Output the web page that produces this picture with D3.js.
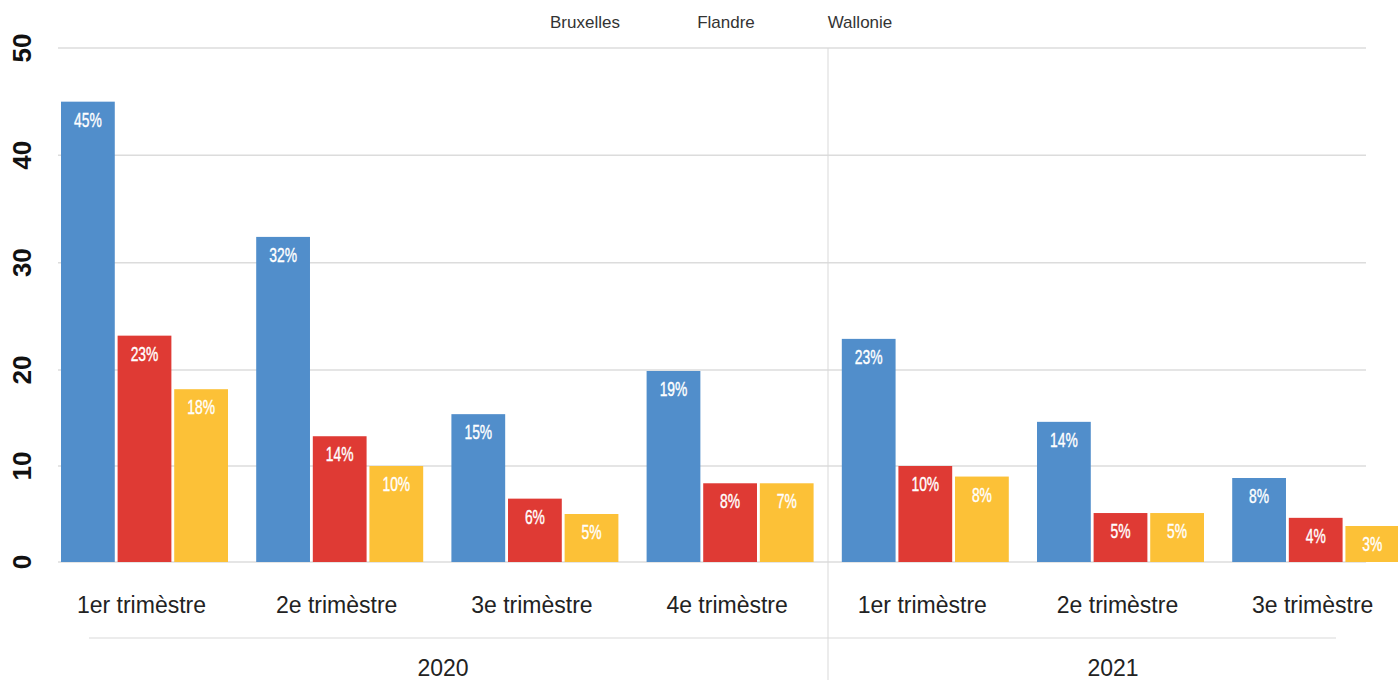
<!DOCTYPE html>
<html><head><meta charset="utf-8">
<script src="https://cdn.jsdelivr.net/npm/d3@7"></script>
<style>
html,body{margin:0;padding:0;background:#fff;}
svg{display:block;}
</style></head>
<body>
<svg id="chart" width="1398" height="680"></svg>
<script>
const categories = ["1er trimèstre","2e trimèstre","3e trimèstre","4e trimèstre","1er trimèstre","2e trimèstre","3e trimèstre"];
const categoryYear = ["2020","2020","2020","2020","2021","2021","2021"];
const years = ["2020","2021"];
const series = ["Bruxelles","Flandre","Wallonie"];
const bruxelles = [45.0, 32.4, 15.4, 19.9, 22.9, 14.6, 8.75];
const flandre   = [23.2, 13.1, 6.6, 8.2, 10.0, 5.1, 4.6];
const wallonie  = [18.0, 10.0, 5.0, 8.2, 8.9, 5.1, 3.75];
const bruxellesLabels = ["45%","32%","15%","19%","23%","14%","8%"];
const flandreLabels   = ["23%","14%","6%","8%","10%","5%","4%"];
const wallonieLabels  = ["18%","10%","5%","7%","8%","5%","3%"];
const yTicks = [0,10,20,30,40,50];

const colors = ["#518ecb","#df3a34","#fcc137"];
const seriesValues = [bruxelles, flandre, wallonie];
const seriesLabels = [bruxellesLabels, flandreLabels, wallonieLabels];

const svg = d3.select("#chart");
const W = 1398, H = 680;
const plotLeft = 58, plotRight = 1366, divX = 828;

const y = d3.scaleLinear().domain([0,20,50]).range([562,370,48]);
const idx = d3.range(categories.length);
const x = d3.scaleBand().domain(idx).range([61, 1399.2]).paddingInner(0.1445).paddingOuter(0);
const xs = d3.scaleBand().domain(series).range([0, x.bandwidth()]).paddingInner(0.05);

// gridlines
const grid = svg.append("g");
grid.selectAll("line").data(yTicks).join("line")
  .attr("x1", plotLeft).attr("x2", plotRight)
  .attr("y1", d => y(d)).attr("y2", d => y(d))
  .attr("stroke", "#dcdcdc").attr("stroke-width", 1.5);

// divider
svg.append("line").attr("x1", divX).attr("x2", divX).attr("y1", 48).attr("y2", H)
  .attr("stroke", "#d9d9d9").attr("stroke-width", 1);

// y tick labels (rotated)
svg.append("g").selectAll("text").data(yTicks).join("text")
  .attr("transform", d => `translate(31,${y(d)}) rotate(-90)`)
  .attr("text-anchor", "middle")
  .attr("font-family", "'Liberation Sans', Arial, sans-serif")
  .attr("font-weight", "bold").attr("font-size", 26).attr("fill", "#111")
  .text(d => d);

// bars
const barData = [];
idx.forEach(i => series.forEach((s, k) => barData.push({i, s, k, v: seriesValues[k][i], lab: seriesLabels[k][i]})));

svg.append("g").selectAll("rect").data(barData).join("rect")
  .attr("x", d => x(d.i) + xs(d.s))
  .attr("y", d => y(d.v))
  .attr("width", xs.bandwidth())
  .attr("height", d => y(0) - y(d.v))
  .attr("fill", d => colors[d.k]);

svg.append("g").selectAll("text").data(barData).join("text")
  .attr("transform", d => `translate(${x(d.i) + xs(d.s) + xs.bandwidth()/2},${y(d.v) + 25}) scale(0.66,1)`)
  .attr("text-anchor", "middle")
  .attr("font-family", "'Liberation Sans', Arial, sans-serif")
  .attr("font-size", 21).attr("fill", "#fff")
  .attr("stroke", "#fff").attr("stroke-width", 0.4)
  .text(d => d.lab);

// category labels
svg.append("g").selectAll("text").data(idx).join("text")
  .attr("x", d => x(d) + x.bandwidth()/2 - 3)
  .attr("y", 613)
  .attr("text-anchor", "middle")
  .attr("font-family", "'Liberation Sans', Arial, sans-serif")
  .attr("font-size", 23).attr("fill", "#222")
  .text(d => categories[d]);

// separator line
svg.append("line").attr("x1", 89).attr("x2", 1336).attr("y1", 638).attr("y2", 638)
  .attr("stroke", "#d9d9d9").attr("stroke-width", 1);

// year labels
const yearSpan = {"2020": [plotLeft, divX], "2021": [divX, W]};
svg.append("g").selectAll("text").data(years).join("text")
  .attr("x", d => (yearSpan[d][0] + yearSpan[d][1]) / 2)
  .attr("y", 676)
  .attr("text-anchor", "middle")
  .attr("font-family", "'Liberation Sans', Arial, sans-serif")
  .attr("font-size", 23).attr("fill", "#222")
  .text(d => d);

// legend
const legendX = [585, 726, 860];
svg.append("g").selectAll("text").data(series).join("text")
  .attr("x", (d, k) => legendX[k]).attr("y", 28)
  .attr("text-anchor", "middle")
  .attr("font-family", "'Liberation Sans', Arial, sans-serif")
  .attr("font-size", 17).attr("fill", "#333")
  .text(d => d);
</script>
</body></html>
